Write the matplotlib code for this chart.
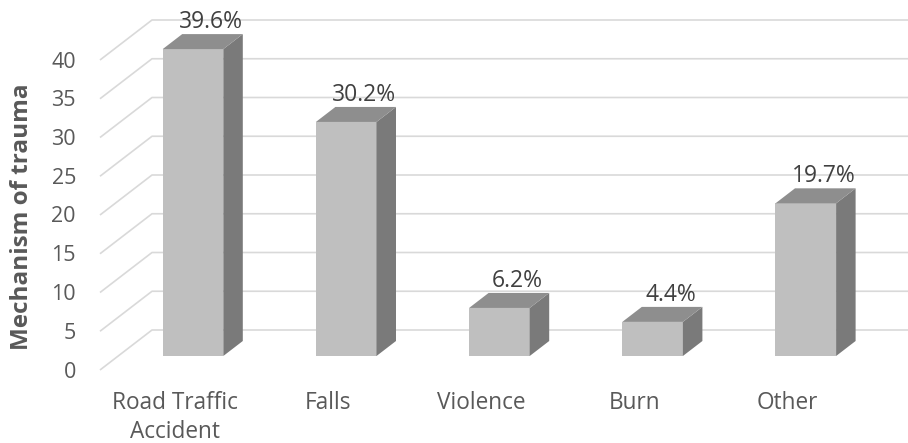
import matplotlib
matplotlib.use("Agg")
import matplotlib.pyplot as plt
from matplotlib.patches import Polygon

# ---- data ----
categories = ["Road Traffic\nAccident", "Falls", "Violence", "Burn", "Other"]
values = [39.6, 30.2, 6.2, 4.4, 19.7]
labels = ["39.6%", "30.2%", "6.2%", "4.4%", "19.7%"]
yticks = [0, 5, 10, 15, 20, 25, 30, 35, 40]
ytitle = "Mechanism of trauma"

# ---- geometry (pixel based helpers) ----
W, H = 908, 443
XPX = 153.2      # px per category
YPX = 7.75       # px per value unit
X0PX = 193.0     # pixel x of first bar front-face centre
Y0PX = 356.0     # pixel y (from top) of bar baseline (front face)

# full depth offset of the 3D box, in data units
DX = 52.0 / XPX
DY = 40.0 / YPX
BAR_DEPTH_POS = 0.35   # fraction of depth where bar front face sits
BAR_DEPTH = 0.375      # fraction of depth occupied by bar
BAR_W = 60.6 / XPX

plt.rcParams['font.family'] = ['Open Sans', 'DejaVu Sans']

fig = plt.figure(figsize=(W / 100, H / 100), dpi=100)
ax = fig.add_axes([0, 0, 1, 1])
ax.set_xlim((0 - X0PX) / XPX, (W - X0PX) / XPX)
ax.set_ylim((Y0PX - H) / YPX, Y0PX / YPX)
ax.axis("off")

grid_col = "#d9d9d9"
front_col = "#bfbfbf"
side_col = "#7a7a7a"
top_col = "#8e8e8e"
text_col = "#595959"

# wall positions
x_wall_front = (100 - X0PX) / XPX      # depth 0 left edge
shift0_x = -BAR_DEPTH_POS * DX
shift0_y = -BAR_DEPTH_POS * DY
xmax = (W - X0PX) / XPX

for v in yticks:
    yf = v + shift0_y
    yb = yf + DY
    ax.plot([x_wall_front, x_wall_front + DX, xmax], [yf, yb, yb],
            color=grid_col, lw=1.2, zorder=1, solid_capstyle="butt")
    ax.text(x_wall_front - 24 / XPX, yf - 2 / YPX, str(v), ha="right", va="center",
            fontsize=15.5, color=text_col)

ddx = BAR_DEPTH * DX
ddy = BAR_DEPTH * DY
for i, (v, lab) in enumerate(zip(values, labels)):
    xl = i - BAR_W / 2
    xr = i + BAR_W / 2
    # front
    ax.add_patch(Polygon([(xl, 0), (xr, 0), (xr, v), (xl, v)], closed=True,
                         facecolor=front_col, edgecolor="none", zorder=3))
    # side
    ax.add_patch(Polygon([(xr, 0), (xr + ddx, ddy), (xr + ddx, v + ddy), (xr, v)],
                         closed=True, facecolor=side_col, edgecolor="none", zorder=3))
    # top
    ax.add_patch(Polygon([(xl, v), (xr, v), (xr + ddx, v + ddy), (xl + ddx, v + ddy)],
                         closed=True, facecolor=top_col, edgecolor="none", zorder=3))
    ax.text(i + 18 / XPX, v + ddy + 12 / YPX, lab, ha="center", va="center",
            fontsize=16.5, color="#404040", zorder=4)
    # category label at depth 0
    ax.text(i + shift0_x, (Y0PX - 391) / YPX, categories[i], ha="center", va="top",
            fontsize=16.3, color=text_col, linespacing=1.3)

ax.text((22 - X0PX) / XPX, (Y0PX - 217) / YPX, ytitle, rotation=90,
        ha="center", va="center", fontsize=17.5, fontweight="bold", color=text_col)

fig.savefig("out.png", dpi=100)
